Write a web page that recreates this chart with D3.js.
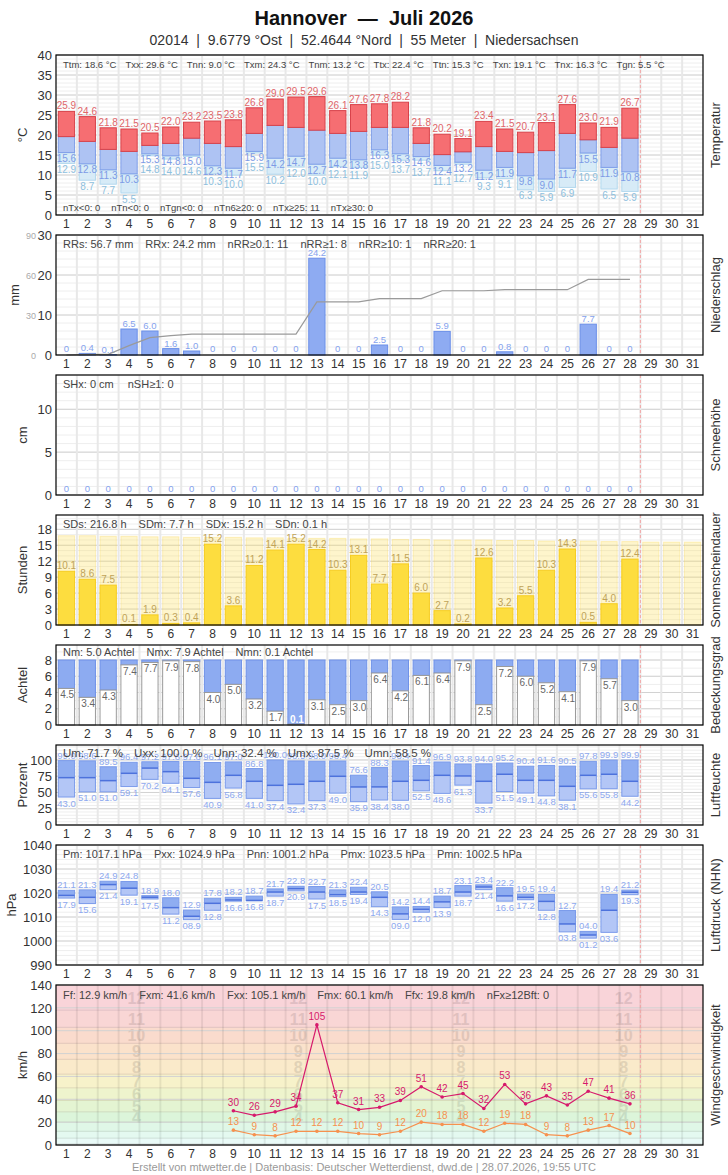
<!DOCTYPE html>
<html>
<head>
<meta charset="utf-8">
<script src="https://cdn.jsdelivr.net/npm/d3@7"></script>
<style>
  body { margin: 0; background: #fff; }
  text { font-family: "Liberation Sans", Arial, sans-serif; }
</style>
</head>
<body>
<svg id="chart" width="728" height="1175"></svg>
<script>
// ---- data (Juli 2026, days 1..28 measured) ----
const days = d3.range(1, 32);

const tMax = [25.9,24.6,21.8,21.5,20.5,22.0,23.2,23.5,23.8,26.8,29.0,29.5,29.6,26.1,27.6,27.8,28.2,21.8,20.2,19.1,23.4,21.5,20.7,23.1,27.6,23.0,21.9,26.7];
const tMean = [19.6,18.4,16.4,15.9,17.4,17.9,19.2,17.9,17.1,20.4,22.4,21.9,21.2,20.4,20.9,21.9,21.9,17.9,15.1,15.8,17.1,15.9,15.6,16.1,20.4,18.8,16.9,19.2];
const tMin = [15.6,12.8,11.3,10.3,15.3,14.8,15.0,12.3,11.7,15.9,14.2,14.7,12.7,14.2,13.8,16.3,15.3,14.6,12.4,13.2,11.2,11.9,9.8,9.0,11.7,15.5,11.9,10.8];
const tGround = [12.9,8.7,7.7,5.5,14.8,14.0,14.6,10.3,10.0,15.5,10.2,12.0,10.0,12.1,11.9,15.0,13.7,13.7,11.1,12.7,9.3,9.1,6.3,5.9,6.9,10.9,6.5,5.9];
const tempStats = ['Ttm: 18.6 °C','Txx: 29.6 °C','Tnn: 9.0 °C','Txm: 24.3 °C','Tnm: 13.2 °C','Ttx: 22.4 °C','Ttn: 15.3 °C','Txn: 19.1 °C','Tnx: 16.3 °C','Tgn: 5.5 °C'];
const tempCounts = ['nTx<0: 0','nTn<0: 0','nTgn<0: 0','nTn6≥20: 0','nTx≥25: 11','nTx≥30: 0'];

const rain = [0,0.4,0.1,6.5,6.0,1.6,1.0,0,0,0,0,0,24.2,0,0,2.5,0,0,5.9,0,0,0.8,0,0,0,7.7,0,0];
const rainStats = ['RRs: 56.7 mm','RRx: 24.2 mm','nRR≥0.1: 11','nRR≥1: 8','nRR≥10: 1','nRR≥20: 1'];

const snow = [0,0,0,0,0,0,0,0,0,0,0,0,0,0,0,0,0,0,0,0,0,0,0,0,0,0,0,0];
const snowStats = ['SHx: 0 cm','nSH≥1: 0'];

const sunPossible = [16.8,16.8,16.7,16.7,16.6,16.6,16.5,16.5,16.5,16.4,16.4,16.3,16.3,16.3,16.2,16.2,16.1,16.1,16.0,16.0,16.0,15.9,15.9,15.8,15.8,15.8,15.7,15.7,15.6,15.6,15.6];
const sun = [10.1,8.6,7.5,0.1,1.9,0.3,0.4,15.2,3.6,11.2,14.1,15.2,14.2,10.3,13.1,7.7,11.5,6.0,2.7,0.2,12.6,3.2,5.5,10.3,14.3,0.5,4.0,12.4];
const sunStats = ['SDs: 216.8 h','SDm: 7.7 h','SDx: 15.2 h','SDn: 0.1 h'];

const cloud = [4.5,3.4,4.3,7.4,7.7,7.9,7.8,4.0,5.0,3.2,1.7,0.1,3.1,2.5,3.0,6.4,4.2,6.1,6.4,7.9,2.5,7.2,6.0,5.2,4.1,7.9,5.7,3.0];
const cloudStats = ['Nm: 5.0 Achtel','Nmx: 7.9 Achtel','Nmn: 0.1 Achtel'];

const humMax = [99.0,98.6,89.5,96.4,97.2,97.6,97.6,96.1,97.0,86.8,100.0,98.5,98.0,98.4,76.6,88.3,98.4,91.4,96.9,93.8,94.0,95.2,90.4,91.6,90.5,97.8,99.9,99.9];
const humMean = [72.8,72.8,68.2,79.5,87.5,82.0,71.8,65.6,76.4,67.2,61.0,62.6,67.2,74.9,58.5,58.6,67.2,68.7,76.4,75.4,67.2,78.0,68.7,68.7,59.5,76.4,78.0,67.2];
const humMin = [43.0,51.0,51.0,59.1,70.2,64.1,57.6,40.9,56.8,41.0,37.4,32.4,37.3,49.0,35.9,38.4,38.0,52.5,48.6,61.3,33.7,51.5,49.1,44.8,38.1,55.6,55.8,44.2];
const humStats = ['Um: 71.7 %','Uxx: 100.0 %','Unn: 32.4 %','Umx: 87.5 %','Umn: 58.5 %'];

const presMax = [1021.1,1021.3,1024.9,1024.8,1018.9,1018.0,1012.9,1017.8,1018.2,1018.7,1021.7,1022.8,1022.7,1021.3,1022.4,1020.5,1014.2,1014.4,1018.7,1023.1,1023.4,1022.2,1019.5,1019.4,1012.7,1004.0,1019.4,1021.2];
const presMean = [1019.0,1018.2,1023.5,1022.0,1018.2,1013.9,1010.3,1015.7,1017.1,1016.9,1020.4,1021.8,1020.4,1019.3,1020.4,1018.2,1011.3,1013.2,1016.3,1020.4,1022.5,1018.8,1018.2,1016.5,1007.1,1002.5,1012.8,1020.3];
const presMin = [1017.9,1015.6,1021.4,1019.1,1017.5,1011.2,1008.9,1012.8,1016.6,1016.8,1018.7,1020.9,1017.5,1018.5,1019.4,1014.3,1009.0,1012.0,1013.9,1018.7,1021.4,1016.6,1017.2,1012.8,1003.8,1001.2,1003.6,1019.3];
const presStats = ['Pm: 1017.1 hPa','Pxx: 1024.9 hPa','Pnn: 1001.2 hPa','Pmx: 1023.5 hPa','Pmn: 1002.5 hPa'];

const gust = [null,null,null,null,null,null,null,null,30,26,29,34,105.1,37,31,33,39,51,42,45,32,53,36,43,35,47,41,36];
const windMean = [null,null,null,null,null,null,null,null,13,9,8,12,12,12,10,9,12,20,18,18,12,19,18,9,8,13,17,10];
const windStats = ['Ff: 12.9 km/h','Fxm: 41.6 km/h','Fxx: 105.1 km/h','Fmx: 60.1 km/h','Ffx: 19.8 km/h','nFx≥12Bft: 0'];

const beaufort = [0,1,6,12,20,29,39,50,62,75,89,103,118,140];
const beaufortColors = ['#effcfb','#e9faf7','#e4f9f0','#e0f7e7','#dcf5da','#e4f4d2','#eef4cd','#f7f2ca','#faeaca','#fbe2cb','#fadbcd','#f9d6d5','#f9d4d9'];

// ---- layout ----
const L = 56, R = 703;
const svg = d3.select('#chart');
const x = d3.scaleBand().domain(days).range([L, R]).paddingInner(0.22).paddingOuter(0.11);
const step = x.step();
const todayX = L + 28 * step;

svg.append('text').attr('x', 364).attr('y', 25).attr('text-anchor', 'middle')
  .attr('font-size', 20).attr('font-weight', 'bold').attr('fill', '#111')
  .text('Hannover\u00a0\u00a0—\u00a0\u00a0Juli 2026');
svg.append('text').attr('x', 364).attr('y', 45).attr('text-anchor', 'middle')
  .attr('font-size', 14).attr('fill', '#333')
  .text('02014\u00a0\u00a0|\u00a0\u00a09.6779 °Ost\u00a0\u00a0|\u00a0\u00a052.4644 °Nord\u00a0\u00a0|\u00a0\u00a055 Meter\u00a0\u00a0|\u00a0\u00a0Niedersachsen');

function statsRow(g, items, yb, size, gap) {
  let cx = L + 7;
  items.forEach(s => {
    const t = g.append('text').attr('x', cx).attr('y', yb).attr('font-size', size).attr('fill', '#444').text(s);
    cx += t.node().getComputedTextLength() + gap;
  });
}

function panel(o) {
  const y = d3.scaleLinear().domain(o.domain).range([o.bottom, o.top]);
  const g = svg.append('g');
  const bg = g.append('g');
  bg.append('rect').attr('x', L).attr('y', o.top).attr('width', R - L).attr('height', o.bottom - o.top).attr('fill', '#fff');
  if (o.bands) o.bands(bg, y);
  bg.selectAll(null).data(o.minor || []).join('line')
    .attr('x1', L).attr('x2', R).attr('y1', d => y(d)).attr('y2', d => y(d))
    .attr('stroke', '#eeeeee');
  bg.selectAll(null).data(o.ticks).join('line')
    .attr('x1', L).attr('x2', R).attr('y1', d => y(d)).attr('y2', d => y(d))
    .attr('stroke', '#d2d2d2');
  bg.selectAll(null).data(d3.range(1, 31)).join('line')
    .attr('x1', d => L + d * step).attr('x2', d => L + d * step)
    .attr('y1', o.top).attr('y2', o.bottom)
    .attr('stroke', o.sepColor || '#e8e8e8').attr('stroke-width', 2);

  const data = g.append('g');
  const over = g.append('g');
  over.append('line').attr('x1', todayX).attr('x2', todayX).attr('y1', o.top).attr('y2', o.bottom)
    .attr('stroke', '#f2a6a6').attr('stroke-dasharray', '3,2');
  over.append('rect').attr('x', L).attr('y', o.top).attr('width', R - L).attr('height', o.bottom - o.top)
    .attr('fill', 'none').attr('stroke', '#000').attr('stroke-width', 1.2);

  const ay = svg.append('g').attr('transform', `translate(${L},0)`)
    .call(d3.axisLeft(y).tickValues(o.ticks).tickSize(0).tickPadding(4).tickFormat(d3.format('d')));
  ay.select('.domain').remove();
  ay.attr('font-family', null).attr('font-size', 13);
  ay.selectAll('text').attr('fill', '#333');

  const ax = svg.append('g').attr('transform', `translate(0,${o.bottom})`)
    .call(d3.axisBottom(x).tickSize(0).tickPadding(4));
  ax.select('.domain').remove();
  ax.attr('font-family', null).attr('font-size', 12);
  ax.selectAll('text').attr('fill', '#333');

  const mid = (o.top + o.bottom) / 2;
  svg.append('text').attr('transform', `translate(${o.unitX || 27},${mid}) rotate(-90)`).attr('text-anchor', 'middle')
    .attr('font-size', 13).attr('fill', '#333').text(o.unit);
  svg.append('text').attr('transform', `translate(720,${mid}) rotate(-90)`).attr('text-anchor', 'middle')
    .attr('font-size', 13).attr('fill', '#333').text(o.name);

  return { data, over, y };
}

const bw = x.bandwidth();
const bx = i => x(i + 1);
const cx = i => x(i + 1) + bw / 2;
const f1 = d3.format('.1f');

// ---- Temperatur ----
{
  const p = panel({ top: 55, bottom: 215, domain: [0, 40], ticks: d3.range(0, 41, 5), minor: d3.range(0, 41, 1), unit: '°C', name: 'Temperatur' });
  const y = p.y;
  p.data.selectAll(null).data(tGround).join('rect')
    .attr('x', (d, i) => bx(i)).attr('width', bw)
    .attr('y', (d, i) => y(tMin[i])).attr('height', (d, i) => Math.max(0, y(d) - y(tMin[i])))
    .attr('fill', '#d7ebf7').attr('stroke', '#b2d8ee');
  p.data.selectAll(null).data(tMin).join('rect')
    .attr('x', (d, i) => bx(i)).attr('width', bw)
    .attr('y', (d, i) => y(tMean[i])).attr('height', (d, i) => y(d) - y(tMean[i]))
    .attr('fill', '#aec3f3').attr('stroke', '#7f9ee8');
  p.data.selectAll(null).data(tMax).join('rect')
    .attr('x', (d, i) => bx(i)).attr('width', bw)
    .attr('y', d => y(d)).attr('height', (d, i) => y(tMean[i]) - y(d))
    .attr('fill', '#f66e72').attr('stroke', '#d8424a');
  p.data.selectAll(null).data(tMax).join('text')
    .attr('x', (d, i) => cx(i)).attr('y', d => y(d) - 2).attr('text-anchor', 'middle')
    .attr('font-size', 10).attr('fill', '#e0666a').text(f1);
  const minY = tMin.map(d => y(d) + 9.5);
  p.data.selectAll(null).data(tMin).join('text')
    .attr('x', (d, i) => cx(i)).attr('y', (d, i) => minY[i]).attr('text-anchor', 'middle')
    .attr('font-size', 10).attr('fill', '#7d9be6').text(f1);
  p.data.selectAll(null).data(tGround).join('text')
    .attr('x', (d, i) => cx(i)).attr('y', (d, i) => Math.max(y(d) + 9.5, minY[i] + 10)).attr('text-anchor', 'middle')
    .attr('font-size', 10).attr('fill', '#8ec0de').text(f1);
  statsRow(p.over, tempStats, 68, 9.5, 9);
  statsRow(p.over, tempCounts, 211, 9.5, 11);
}

// ---- Niederschlag ----
{
  const p = panel({ top: 235, bottom: 355, domain: [0, 30], ticks: [0, 10, 20, 30], minor: d3.range(0, 31, 2), unit: 'mm', unitX: 19, name: 'Niederschlag' });
  const y = p.y;
  const y2 = d3.scaleLinear().domain([0, 90]).range([355, 235]);
  [0, 30, 60, 90].forEach(v => svg.append('text').attr('x', 36).attr('y', y2(v) + 4).attr('text-anchor', 'end')
    .attr('font-size', 9).attr('fill', '#aaa').text(v));
  p.data.selectAll(null).data(rain).join('rect')
    .attr('x', (d, i) => bx(i)).attr('width', bw)
    .attr('y', d => y(d)).attr('height', d => y(0) - y(d))
    .attr('fill', '#8eabf2').attr('stroke', d => d > 0 ? '#6b8fe8' : 'none');
  p.data.selectAll(null).data(rain).join('text')
    .attr('x', (d, i) => cx(i)).attr('y', d => d > 0 ? y(d) - 2 : y(0) - 3).attr('text-anchor', 'middle')
    .attr('font-size', 9.5).attr('fill', '#86a3ee').text(d => d > 0 ? f1(d) : '0');
  const cum = d3.cumsum(rain);
  p.data.append('path').datum(Array.from(cum))
    .attr('d', d3.line().x((d, i) => cx(i)).y(d => y2(d)))
    .attr('fill', 'none').attr('stroke', '#9a9a9a').attr('stroke-width', 1.2);
  statsRow(p.over, rainStats, 248, 11, 12);
}

// ---- Schneehöhe ----
{
  const p = panel({ top: 375, bottom: 495, domain: [0, 14], ticks: [0, 5, 10], minor: d3.range(0, 15, 1), unit: 'cm', name: 'Schneehöhe' });
  const y = p.y;
  p.data.selectAll(null).data(snow).join('text')
    .attr('x', (d, i) => cx(i)).attr('y', d => y(d) - 3).attr('text-anchor', 'middle')
    .attr('font-size', 9.5).attr('fill', '#86a3ee').text(d => d);
  statsRow(p.over, snowStats, 388, 11, 14);
}

// ---- Sonnenscheindauer ----
{
  const p = panel({ top: 515, bottom: 625, domain: [0, 20.7], ticks: [0, 3, 6, 9, 12, 15, 18], minor: d3.range(0, 21, 1), unit: 'Stunden', name: 'Sonnenscheindauer' });
  const y = p.y;
  p.data.selectAll(null).data(sunPossible).join('rect')
    .attr('x', (d, i) => bx(i)).attr('width', bw)
    .attr('y', d => y(d)).attr('height', d => y(0) - y(d))
    .attr('fill', 'rgba(253,226,110,0.35)').attr('stroke', 'rgba(250,215,90,0.35)');
  p.data.selectAll(null).data(sun).join('rect')
    .attr('x', (d, i) => bx(i)).attr('width', bw)
    .attr('y', d => y(d)).attr('height', d => y(0) - y(d))
    .attr('fill', '#fddd3f').attr('stroke', '#f6cd22');
  p.data.selectAll(null).data(sun).join('text')
    .attr('x', (d, i) => cx(i)).attr('y', d => y(d) - 2).attr('text-anchor', 'middle')
    .attr('font-size', 10).attr('fill', '#c0a358').text(f1);
  statsRow(p.over, sunStats, 528, 11, 12);
}

// ---- Bedeckungsgrad ----
{
  const p = panel({ top: 645, bottom: 725, domain: [0, 9.85], ticks: [0, 2, 4, 6, 8], minor: d3.range(0, 10, 1), unit: 'Achtel', name: 'Bedeckungsgrad' });
  const y = p.y;
  p.data.selectAll(null).data(cloud).join('rect')
    .attr('x', (d, i) => bx(i)).attr('width', bw)
    .attr('y', y(8)).attr('height', d => y(d) - y(8))
    .attr('fill', '#8dabf1').attr('stroke', '#6f92e8');
  p.data.selectAll(null).data(cloud).join('rect')
    .attr('x', (d, i) => bx(i)).attr('width', bw)
    .attr('y', d => y(d)).attr('height', d => y(0) - y(d))
    .attr('fill', '#fff').attr('stroke', '#9a9a9a');
  p.data.selectAll(null).data(cloud).join('text')
    .attr('x', (d, i) => bx(i) + 2)
    .attr('y', d => (y(0) - y(d) < 12) ? y(0) - 2 : y(d) + 10)
    .attr('font-size', 10)
    .attr('font-weight', d => (y(0) - y(d) < 12) ? 'bold' : null)
    .attr('fill', d => (y(0) - y(d) < 12) ? '#fff' : '#666').text(f1);
  statsRow(p.over, cloudStats, 656, 11, 12);
}

// ---- Luftfeuchte ----
{
  const p = panel({ top: 745, bottom: 825, domain: [0, 123], ticks: [0, 25, 50, 75, 100], minor: d3.range(0, 124, 5), unit: 'Prozent', name: 'Luftfeuchte' });
  const y = p.y;
  p.data.selectAll(null).data(humMin).join('rect')
    .attr('x', (d, i) => bx(i)).attr('width', bw)
    .attr('y', (d, i) => y(humMean[i])).attr('height', (d, i) => y(d) - y(humMean[i]))
    .attr('fill', '#b3c6f6');
  p.data.selectAll(null).data(humMax).join('rect')
    .attr('x', (d, i) => bx(i)).attr('width', bw)
    .attr('y', d => y(d)).attr('height', (d, i) => y(humMean[i]) - y(d))
    .attr('fill', '#8fadf1');
  p.data.selectAll(null).data(humMax).join('rect')
    .attr('x', (d, i) => bx(i)).attr('width', bw)
    .attr('y', d => y(d)).attr('height', (d, i) => y(humMin[i]) - y(d))
    .attr('fill', 'none').attr('stroke', '#7b9bea');
  p.data.selectAll(null).data(humMean).join('line')
    .attr('x1', (d, i) => bx(i)).attr('x2', (d, i) => bx(i) + bw)
    .attr('y1', d => y(d)).attr('y2', d => y(d))
    .attr('stroke', '#4d72dc').attr('stroke-width', 1.5);
  p.data.selectAll(null).data(humMax).join('text')
    .attr('x', (d, i) => cx(i)).attr('y', d => y(d) - 2).attr('text-anchor', 'middle')
    .attr('font-size', 9.5).attr('fill', '#8ea9ef').text(f1);
  p.data.selectAll(null).data(humMin).join('text')
    .attr('x', (d, i) => cx(i)).attr('y', d => y(d) + 9.5).attr('text-anchor', 'middle')
    .attr('font-size', 9.5).attr('fill', '#8ea9ef').text(f1);
  statsRow(p.over, humStats, 757, 11.5, 11);
}

// ---- Luftdruck ----
{
  const p = panel({ top: 845, bottom: 965, domain: [990, 1040], ticks: d3.range(990, 1041, 10), minor: d3.range(990, 1041, 2), unit: 'hPa', unitX: 16, name: 'Luftdruck (NHN)' });
  const y = p.y;
  const pf = d => d3.format('04.1f')(d - 1000);
  p.data.selectAll(null).data(presMin).join('rect')
    .attr('x', (d, i) => bx(i)).attr('width', bw)
    .attr('y', (d, i) => y(presMean[i])).attr('height', (d, i) => y(d) - y(presMean[i]))
    .attr('fill', '#b3c6f6');
  p.data.selectAll(null).data(presMax).join('rect')
    .attr('x', (d, i) => bx(i)).attr('width', bw)
    .attr('y', d => y(d)).attr('height', (d, i) => y(presMean[i]) - y(d))
    .attr('fill', '#8fadf1');
  p.data.selectAll(null).data(presMax).join('rect')
    .attr('x', (d, i) => bx(i)).attr('width', bw)
    .attr('y', d => y(d)).attr('height', (d, i) => y(presMin[i]) - y(d))
    .attr('fill', 'none').attr('stroke', '#7b9bea');
  p.data.selectAll(null).data(presMean).join('line')
    .attr('x1', (d, i) => bx(i)).attr('x2', (d, i) => bx(i) + bw)
    .attr('y1', d => y(d)).attr('y2', d => y(d))
    .attr('stroke', '#4d72dc').attr('stroke-width', 1.5);
  p.data.selectAll(null).data(presMax).join('text')
    .attr('x', (d, i) => cx(i)).attr('y', d => y(d) - 2).attr('text-anchor', 'middle')
    .attr('font-size', 9.5).attr('fill', '#8ea9ef').text(pf);
  p.data.selectAll(null).data(presMin).join('text')
    .attr('x', (d, i) => cx(i)).attr('y', d => y(d) + 9.5).attr('text-anchor', 'middle')
    .attr('font-size', 9.5).attr('fill', '#8ea9ef').text(pf);
  statsRow(p.over, presStats, 858, 11, 12);
}

// ---- Windgeschwindigkeit ----
{
  const bands = (g, y) => {
    const idx = d3.range(beaufort.length - 1);
    g.selectAll(null).data(idx).join('rect')
      .attr('x', L).attr('width', R - L)
      .attr('y', i => y(beaufort[i + 1])).attr('height', i => y(beaufort[i]) - y(beaufort[i + 1]))
      .attr('fill', i => beaufortColors[i]);
    g.selectAll(null).data(beaufort.slice(1, -1)).join('line')
      .attr('x1', L).attr('x2', R).attr('y1', d => y(d)).attr('y2', d => y(d))
      .attr('stroke', (d, i) => d3.color(beaufortColors[i + 1]).darker(0.3));
    const cols = [4.35, 12.1, 19.9, 27.7];
    const nums = idx.filter(i => i >= 4);
    cols.forEach(c => {
      g.selectAll(null).data(nums).join('text')
        .attr('x', L + (c - 0.5) * step)
        .attr('y', i => y((beaufort[i] + beaufort[i + 1]) / 2) + 6)
        .attr('text-anchor', 'middle').attr('font-size', 16).attr('font-weight', 'bold')
        .attr('fill', i => d3.color(beaufortColors[i]).darker(0.3))
        .text(i => i);
    });
  };
  const p = panel({ top: 985, bottom: 1145, domain: [0, 140], ticks: d3.range(0, 141, 20), bands, sepColor: 'rgba(0,0,0,0.07)', unit: 'km/h', name: 'Windgeschwindigkeit' });
  const y = p.y;
  const series = [[gust, '#d61a6c'], [windMean, '#f6914f']];
  series.forEach(([vals, col]) => {
    const pts = vals.map((d, i) => ({ d, i })).filter(o => o.d !== null);
    p.data.append('path').datum(pts)
      .attr('d', d3.line().x(o => cx(o.i)).y(o => y(o.d)))
      .attr('fill', 'none').attr('stroke', col).attr('stroke-width', 1.2);
    p.data.selectAll(null).data(pts).join('circle')
      .attr('cx', o => cx(o.i)).attr('cy', o => y(o.d)).attr('r', 1.8).attr('fill', col);
    p.data.selectAll(null).data(pts).join('text')
      .attr('x', o => cx(o.i)).attr('y', o => y(o.d) - 5).attr('text-anchor', 'middle')
      .attr('font-size', 10).attr('fill', col).text(o => d3.format('.0f')(o.d));
  });
  statsRow(p.over, windStats, 999, 11, 12);
}

svg.append('text').attr('x', 364).attr('y', 1171).attr('text-anchor', 'middle')
  .attr('font-size', 11).attr('fill', '#999')
  .text('Erstellt von mtwetter.de | Datenbasis: Deutscher Wetterdienst, dwd.de | 28.07.2026, 19:55 UTC');
</script>
</body>
</html>
